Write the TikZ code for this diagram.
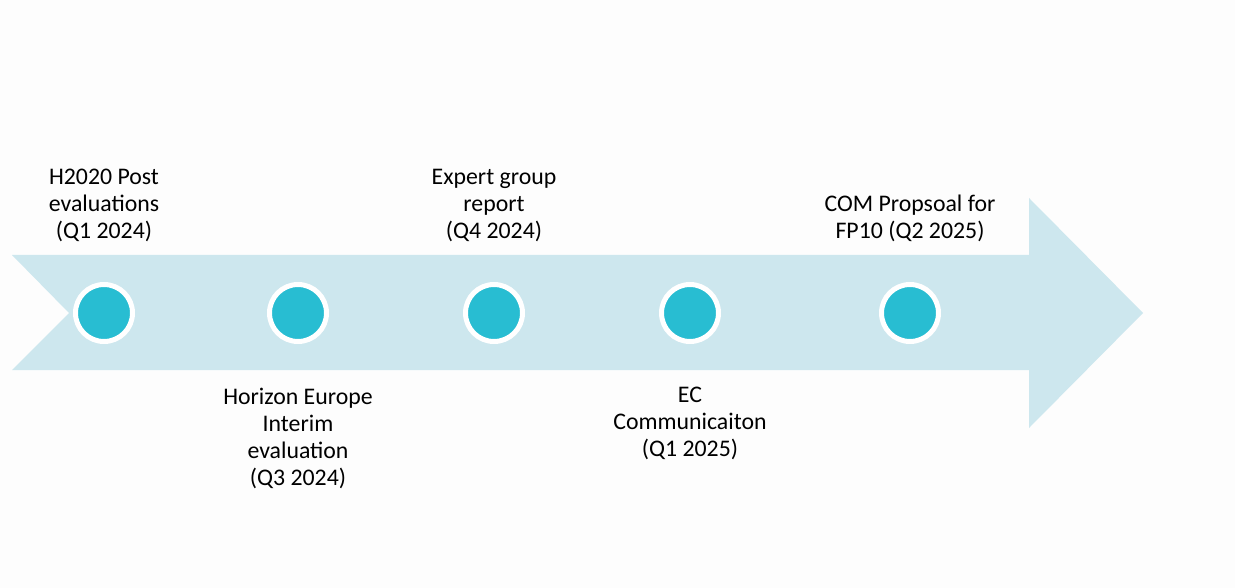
\documentclass[tikz,border=0pt]{standalone}
\usepackage{fontspec}
\setmainfont{Carlito}
\definecolor{bgc}{HTML}{FDFDFD}
\definecolor{arrowc}{HTML}{CDE7EE}
\definecolor{dotc}{HTML}{28BDD2}
\begin{document}
\begin{tikzpicture}[x=1pt,y=-1pt,
  milestone/.style={circle,fill=dotc,draw=white,line width=5pt,minimum size=57pt,inner sep=0pt},
  lbl/.style={align=center,inner sep=0pt,font=\fontsize{23.8}{27}\selectfont,text=black}]
\fill[bgc] (0,0) rectangle (1235,588);
\useasboundingbox (0,0) rectangle (1235,588);
\fill[arrowc] (12,255) -- (1029,255) -- (1029,198) -- (1143,313) -- (1029,428) -- (1029,370) -- (12,370) -- (69,313) -- cycle;
\node[milestone] (m1) at (104,313) {};
\node[milestone] (m2) at (298,313) {};
\node[milestone] (m3) at (494,313) {};
\node[milestone] (m4) at (690,313) {};
\node[milestone] (m5) at (910,313) {};
\node[lbl,anchor=south] (l1) at (104,242) {H2020 Post\\evaluations\\(Q1 2024)};
\node[lbl,anchor=south] (l3) at (494,242) {Expert group\\report\\(Q4 2024)};
\node[lbl,anchor=south] (l5) at (910,242) {COM Propsoal for\\FP10 (Q2 2025)};
\node[lbl,anchor=north] (l2) at (298,388) {Horizon Europe\\Interim\\evaluation\\(Q3 2024)};
\node[lbl,anchor=north] (l4) at (690,387) {EC\\Communicaiton\\(Q1 2025)};
\end{tikzpicture}
\end{document}
